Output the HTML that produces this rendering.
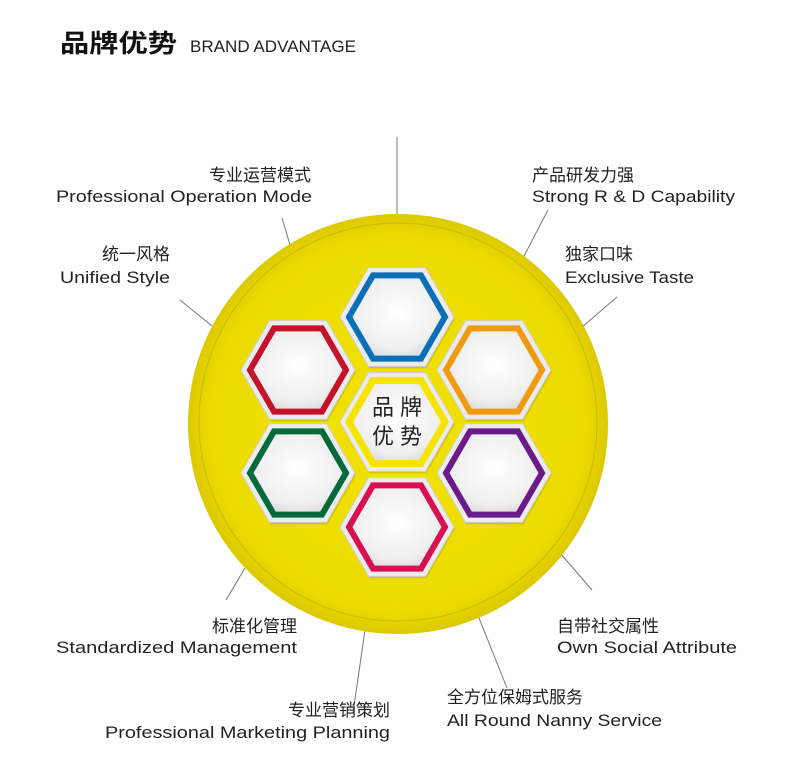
<!DOCTYPE html>
<html><head><meta charset="utf-8"><style>
html,body{margin:0;padding:0;background:#fff;}
svg{display:block;}
text{font-family:"Liberation Sans","Noto Sans CJK SC",sans-serif;fill:#222;}
</style></head><body>
<svg width="793" height="773" viewBox="0 0 793 773" xmlns="http://www.w3.org/2000/svg">
<defs>
<radialGradient id="wg" cx="50%" cy="45%" r="60%"><stop offset="0" stop-color="#ffffff"/><stop offset="0.7" stop-color="#f0f0f0"/><stop offset="1" stop-color="#d8d8d8"/></radialGradient>
<radialGradient id="yg" cx="50%" cy="50%" r="50%"><stop offset="0" stop-color="#f2e200"/><stop offset="0.9" stop-color="#ecdb00"/><stop offset="1" stop-color="#dcc800"/></radialGradient>
<polygon id="sh" points="-56,2 -27.5,-47.4 29.5,-47.4 58,2 29.5,51.4 -27.5,51.4" fill="#b8a800" opacity="0.5"/>
<polygon id="ou" points="-57,0 -28.5,-49.4 28.5,-49.4 57,0 28.5,49.4 -28.5,49.4" fill="#ececec" stroke="#d0d0d0" stroke-width="1"/>
</defs>
<text x="60" y="52" font-size="25" font-weight="bold" textLength="117" lengthAdjust="spacingAndGlyphs" style="fill:#111">品牌优势</text>
<text x="190" y="52" font-size="17" textLength="166" lengthAdjust="spacingAndGlyphs">BRAND ADVANTAGE</text>

<g stroke="#777" stroke-width="1">
<line x1="397" y1="137" x2="397" y2="216"/>
<line x1="282" y1="218" x2="290" y2="245"/>
<line x1="180" y1="300" x2="212" y2="326"/>
<line x1="548" y1="210" x2="523" y2="258"/>
<line x1="617" y1="297" x2="582" y2="327"/>
<line x1="226" y1="600" x2="245" y2="568"/>
<line x1="353" y1="713" x2="365" y2="630"/>
<line x1="507" y1="688" x2="477" y2="613"/>
<line x1="592" y1="590" x2="560" y2="553"/>
</g>

<circle cx="398" cy="424" r="210" fill="url(#yg)"/>
<circle cx="398" cy="422" r="199" fill="none" stroke="#c9b800" stroke-width="1"/>

<g transform="translate(397,317)"><use href="#sh"/><use href="#ou"/><polygon points="-48,0 -24,-41.6 24,-41.6 48,0 24,41.6 -24,41.6" fill="url(#wg)" stroke="#0a6fb8" stroke-width="6"/></g>
<g transform="translate(298,370)"><use href="#sh"/><use href="#ou"/><polygon points="-48,0 -24,-41.6 24,-41.6 48,0 24,41.6 -24,41.6" fill="url(#wg)" stroke="#c4122a" stroke-width="6"/></g>
<g transform="translate(494,370)"><use href="#sh"/><use href="#ou"/><polygon points="-48,0 -24,-41.6 24,-41.6 48,0 24,41.6 -24,41.6" fill="url(#wg)" stroke="#ef9a10" stroke-width="6"/></g>
<g transform="translate(298,473)"><use href="#sh"/><use href="#ou"/><polygon points="-48,0 -24,-41.6 24,-41.6 48,0 24,41.6 -24,41.6" fill="url(#wg)" stroke="#06693a" stroke-width="6"/></g>
<g transform="translate(494,473)"><use href="#sh"/><use href="#ou"/><polygon points="-48,0 -24,-41.6 24,-41.6 48,0 24,41.6 -24,41.6" fill="url(#wg)" stroke="#6a1a8a" stroke-width="6"/></g>
<g transform="translate(397,527)"><use href="#sh"/><use href="#ou"/><polygon points="-48,0 -24,-41.6 24,-41.6 48,0 24,41.6 -24,41.6" fill="url(#wg)" stroke="#d80f50" stroke-width="6"/></g>
<g transform="translate(397,422)"><use href="#sh"/><use href="#ou"/><polygon points="-48,0 -24,-41.6 24,-41.6 48,0 24,41.6 -24,41.6" fill="url(#wg)" stroke="#f5e400" stroke-width="7"/></g>

<text x="397" y="415" font-size="22" text-anchor="middle">品 牌</text>
<text x="397" y="444" font-size="22" text-anchor="middle">优 势</text>

<g font-size="17">
<text x="311" y="181" text-anchor="end">专业运营模式</text>
<text x="56" y="202" textLength="256" lengthAdjust="spacingAndGlyphs">Professional Operation Mode</text>
<text x="170" y="260" text-anchor="end">统一风格</text>
<text x="60" y="283" textLength="110" lengthAdjust="spacingAndGlyphs">Unified Style</text>
<text x="532" y="181">产品研发力强</text>
<text x="532" y="202" textLength="203" lengthAdjust="spacingAndGlyphs">Strong R &amp; D Capability</text>
<text x="565" y="260">独家口味</text>
<text x="565" y="283" textLength="129" lengthAdjust="spacingAndGlyphs">Exclusive Taste</text>
<text x="297" y="632" text-anchor="end">标准化管理</text>
<text x="56" y="653" textLength="241" lengthAdjust="spacingAndGlyphs">Standardized Management</text>
<text x="557" y="632">自带社交属性</text>
<text x="557" y="653" textLength="180" lengthAdjust="spacingAndGlyphs">Own Social Attribute</text>
<text x="447" y="703">全方位保姆式服务</text>
<text x="447" y="726" textLength="215" lengthAdjust="spacingAndGlyphs">All Round Nanny Service</text>
<text x="390" y="716" text-anchor="end">专业营销策划</text>
<text x="105" y="738" textLength="285" lengthAdjust="spacingAndGlyphs">Professional Marketing Planning</text>
</g>
</svg>
</body></html>
